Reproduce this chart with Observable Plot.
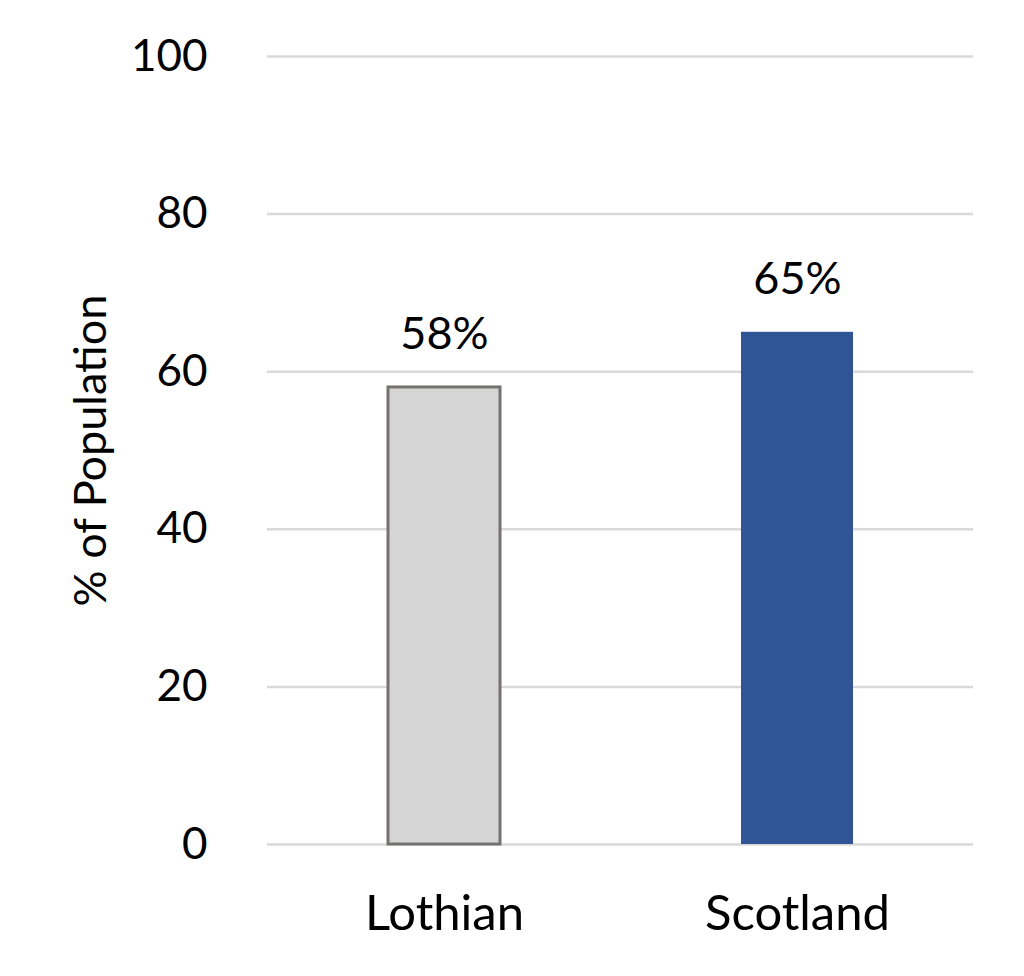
<!DOCTYPE html>
<html>
<head>
<meta charset="utf-8">
<script src="https://cdn.jsdelivr.net/npm/d3@7"></script>
<script src="https://cdn.jsdelivr.net/npm/@observablehq/plot@0.6"></script>
<style>
  html, body { margin: 0; padding: 0; background: #fff; }
  svg { display: block; }
</style>
</head>
<body>
<div id="chart"></div>
<script>
const categories = ["Lothian", "Scotland"];
const values = [58, 65];
const valueLabels = ["58%", "65%"];
const yTicks = [0, 20, 40, 60, 80, 100];
const yLabel = "% of Population";

const data = categories.map((c, i) => ({cat: c, value: values[i], label: valueLabels[i]}));
const fillColors = {Lothian: "#d5d5d5", Scotland: "#2f5597"};
const strokeColors = {Lothian: "#767171", Scotland: "none"};

const font = "Lato, 'Open Sans', sans-serif";

const chart = Plot.plot({
  width: 1024,
  height: 976,
  marginLeft: 267,
  marginRight: 51,
  marginTop: 56,
  marginBottom: 132,
  style: {fontFamily: font, fontSize: "44px", color: "#000", background: "#fff"},
  x: {domain: categories, paddingInner: 0.683, paddingOuter: 0.3415, label: null},
  y: {domain: [0, 100], ticks: yTicks, label: null},
  marks: [
    Plot.ruleY(yTicks, {stroke: "#d9d9d9", strokeWidth: 2.5}),
    Plot.barY(data, {x: "cat", y: "value", fill: d => fillColors[d.cat], stroke: d => strokeColors[d.cat], strokeWidth: 3, inset: 0}),
    Plot.text(data, {x: "cat", y: "value", text: "label", dy: -53, fontSize: 45, fill: "#000"}),
    Plot.axisY(yTicks, {tickSize: 0, tickPadding: 60, fontSize: 44, fill: "#000", label: null}),
    Plot.axisX({tickSize: 0, tickPadding: 51, fontSize: 49, fill: "#000", label: null}),
    Plot.text([yLabel], {frameAnchor: "left", rotate: -90, dx: -176, textAnchor: "middle", lineAnchor: "middle", fontSize: 45, fill: "#000"})
  ]
});
document.getElementById("chart").appendChild(chart);
</script>
</body>
</html>
